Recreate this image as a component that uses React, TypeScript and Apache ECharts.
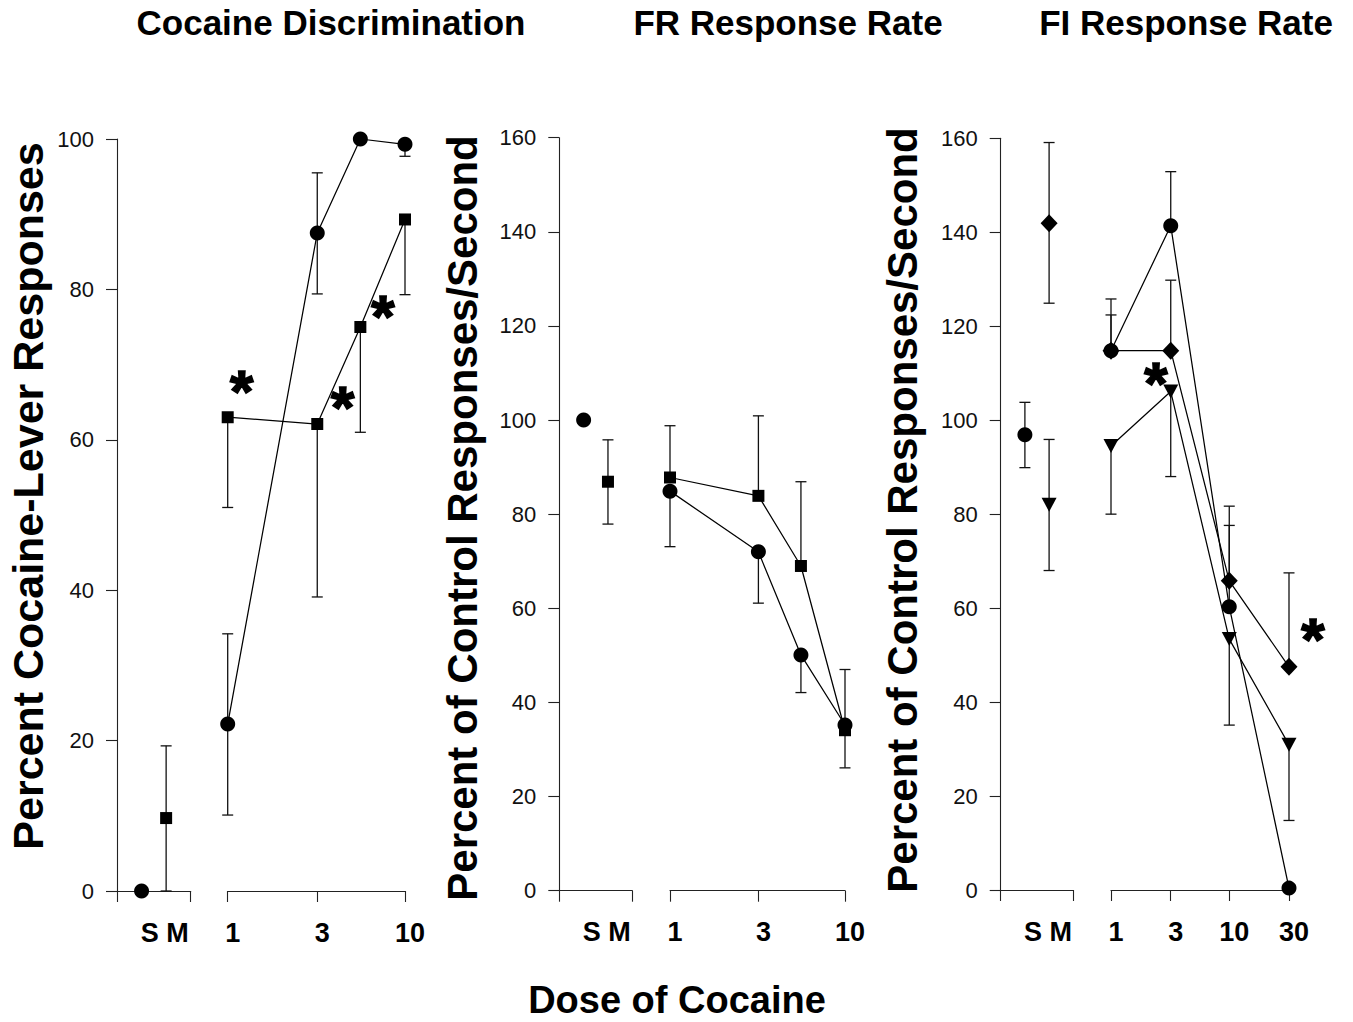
import React, { useEffect, useRef } from 'react';
import * as echarts from 'echarts';

const FONT = '"Liberation Sans", Arial, Helvetica, sans-serif';
const INK = '#000';

// ---------- texts ----------
const panelTitles = ['Cocaine Discrimination', 'FR Response Rate', 'FI Response Rate'];
const yTitles = [
  'Percent Cocaine-Lever Responses',
  'Percent of Control Responses/Second',
  'Percent of Control Responses/Second',
];
const xTitle = 'Dose of Cocaine';
const controlLabel = 'S M';
const starText = '*';

// ---------- panel 1: Cocaine Discrimination ----------
const p1Doses = [1, 3.2, 5.6, 10];
const p1TickDoses = [1, 3.2, 10];
const p1TickLabels = ['1', '3', '10'];
const p1CircleMean = [22.2, 87.5, 100, 99.3];
const p1CircleLo = [10.1, 79.4, null, 97.7];
const p1CircleHi = [34.2, 95.5, null, null];
const p1SquareMean = [63, 62.1, 75, 89.3];
const p1SquareLo = [51, 39.1, 61, 79.3];
const p1SquareHi = [null, null, null, null];
// controls: [position (1 = S, 2 = M), mean, lo, hi]
const p1CircleCtrl = [1, 0, null, null];
const p1SquareCtrl = [2, 9.7, 0, 19.3];
const p1Stars = [[1.2, 67.5], [4.45, 65.3], [7.5, 77.5]];

// ---------- panel 2: FR Response Rate ----------
const p2Doses = [1, 3.2, 5.6, 10];
const p2TickDoses = [1, 3.2, 10];
const p2TickLabels = ['1', '3', '10'];
const p2CircleMean = [84.9, 72.0, 50.1, 35.2];
const p2CircleLo = [73.1, 61.1, 42.1, null];
const p2CircleHi = [null, null, null, 47.0];
const p2SquareMean = [87.8, 83.9, 69.0, 34.1];
const p2SquareLo = [null, null, null, 26.1];
const p2SquareHi = [98.8, 100.9, 86.9, null];
const p2CircleCtrl = [1, 100, null, null];
const p2SquareCtrl = [2, 86.9, 77.9, 95.8];

// ---------- panel 3: FI Response Rate ----------
const p3Doses = [1, 3.2, 10, 32];
const p3TickDoses = [1, 3.2, 10, 32];
const p3TickLabels = ['1', '3', '10', '30'];
const p3CircleMean = [114.8, 141.4, 60.3, 0.4];
const p3CircleLo = [null, null, null, null];
const p3CircleHi = [122.4, 152.9, 77.6, null];
const p3DiamondMean = [114.8, 114.8, 65.8, 47.5];
const p3DiamondLo = [null, null, null, null];
const p3DiamondHi = [125.8, 129.8, 81.7, 67.5];
const p3TriangleMean = [94.5, 106.1, 53.4, 30.9];
const p3TriangleLo = [80.0, 88.0, 35.1, 14.8];
const p3TriangleHi = [null, null, null, null];
const p3CircleCtrl = [1, 96.9, 89.9, 103.8];
const p3DiamondCtrl = [2, 141.9, 124.9, 159.1];
const p3TriangleCtrl = [2, 82, 68, 95.9];
const p3Stars = [[2.4, 109.6], [51, 55]];

// ---------- layout (pixels) ----------
const panels = [
  {
    yMax: 100,
    top: 139, height: 752,
    ctrlLeft: 117, ctrlWidth: 73.7,
    doseLeft: 227.7, doseWidth: 177.3,
    doses: p1Doses, tickDoses: p1TickDoses, tickLabels: p1TickLabels,
    series: [
      { sym: 'circle', size: 15, rot: 0, mean: p1CircleMean, lo: p1CircleLo, hi: p1CircleHi, ctrl: p1CircleCtrl },
      { sym: 'rect', size: 12, rot: 0, mean: p1SquareMean, lo: p1SquareLo, hi: p1SquareHi, ctrl: p1SquareCtrl },
    ],
    stars: p1Stars,
    title: { x: 331, y: 22 },
    yTitle: { x: 28, y: 496, size: 43 },
  },
  {
    yMax: 160,
    top: 137.7, height: 753,
    ctrlLeft: 559.3, ctrlWidth: 73,
    doseLeft: 670, doseWidth: 175,
    doses: p2Doses, tickDoses: p2TickDoses, tickLabels: p2TickLabels,
    series: [
      { sym: 'circle', size: 15, rot: 0, mean: p2CircleMean, lo: p2CircleLo, hi: p2CircleHi, ctrl: p2CircleCtrl },
      { sym: 'rect', size: 12, rot: 0, mean: p2SquareMean, lo: p2SquareLo, hi: p2SquareHi, ctrl: p2SquareCtrl },
    ],
    stars: [],
    title: { x: 788, y: 22 },
    yTitle: { x: 462, y: 518, size: 42 },
  },
  {
    yMax: 160,
    top: 138.3, height: 751.7,
    ctrlLeft: 1000.7, ctrlWidth: 72.6,
    doseLeft: 1111, doseWidth: 178,
    doses: p3Doses, tickDoses: p3TickDoses, tickLabels: p3TickLabels,
    series: [
      { sym: 'circle', size: 15, rot: 0, mean: p3CircleMean, lo: p3CircleLo, hi: p3CircleHi, ctrl: p3CircleCtrl },
      { sym: 'diamond', size: [17, 18], rot: 0, mean: p3DiamondMean, lo: p3DiamondLo, hi: p3DiamondHi, ctrl: p3DiamondCtrl },
      { sym: 'triangle', size: [15, 14], rot: 180, mean: p3TriangleMean, lo: p3TriangleLo, hi: p3TriangleHi, ctrl: p3TriangleCtrl },
    ],
    stars: p3Stars,
    title: { x: 1186, y: 22 },
    yTitle: { x: 902, y: 510, size: 42 },
  },
];

const lg = (d: number) => Math.log10(d);

const errRender = (params: any, api: any) => {
  const x = api.value(0);
  const lo = api.value(1);
  const hi = api.value(2);
  const capLo = api.value(3);
  const capHi = api.value(4);
  const a = api.coord([x, lo]);
  const b = api.coord([x, hi]);
  const w = 5.5;
  const style = { stroke: '#111', lineWidth: 1.3, fill: 'none' };
  const children: any[] = [
    { type: 'line', shape: { x1: a[0], y1: a[1], x2: b[0], y2: b[1] }, style },
  ];
  if (capLo) children.push({ type: 'line', shape: { x1: a[0] - w, y1: a[1], x2: a[0] + w, y2: a[1] }, style });
  if (capHi) children.push({ type: 'line', shape: { x1: b[0] - w, y1: b[1], x2: b[0] + w, y2: b[1] }, style });
  return { type: 'group', children };
};

function errData(xs: number[], mean: number[], lo: (number | null)[], hi: (number | null)[]) {
  const out: any[] = [];
  xs.forEach((x, i) => {
    const l = lo[i];
    const h = hi[i];
    if (l == null && h == null) return;
    out.push([x, l ?? mean[i], h ?? mean[i], l != null ? 1 : 0, h != null ? 1 : 0]);
  });
  return out;
}

function buildOption() {
  const grid: any[] = [];
  const xAxis: any[] = [];
  const yAxis: any[] = [];
  const series: any[] = [];
  const graphic: any[] = [];
  const axisLineStyle = { color: '#222', width: 1.1 };

  panels.forEach((p, pi) => {
    const gCtrl = pi * 2;
    const gDose = pi * 2 + 1;
    grid.push({ left: p.ctrlLeft, top: p.top, width: p.ctrlWidth, height: p.height });
    grid.push({ left: p.doseLeft, top: p.top, width: p.doseWidth, height: p.height });

    // control axes
    xAxis.push({
      gridIndex: gCtrl, type: 'value', min: 0, max: 3,
      axisLine: { show: true, onZero: false, lineStyle: axisLineStyle },
      axisTick: { show: true, customValues: [0, 3], length: 11, inside: false, lineStyle: axisLineStyle },
      axisLabel: {
        show: true, customValues: [1.5], formatter: () => controlLabel,
        fontFamily: FONT, fontWeight: 'bold', fontSize: 27, color: INK, margin: 28,
        padding: [0, 0, 0, 22],
      },
      splitLine: { show: false },
    });
    yAxis.push({
      gridIndex: gCtrl, type: 'value', min: 0, max: p.yMax, interval: 20,
      axisLine: { show: true, onZero: false, lineStyle: axisLineStyle },
      axisTick: { show: true, length: 11, inside: false, lineStyle: axisLineStyle },
      axisLabel: { fontFamily: FONT, fontSize: 22, color: '#111', margin: 23 },
      splitLine: { show: false },
    });

    // dose axes (log10 of dose)
    const tickPos = p.tickDoses.map(lg);
    const maxDose = p.tickDoses[p.tickDoses.length - 1];
    xAxis.push({
      gridIndex: gDose, type: 'value', min: 0, max: lg(maxDose),
      axisLine: { show: true, onZero: false, lineStyle: axisLineStyle },
      axisTick: { show: true, customValues: tickPos, length: 11, inside: false, lineStyle: axisLineStyle },
      axisLabel: {
        show: true, customValues: tickPos,
        formatter: (v: number) => {
          const k = tickPos.findIndex((t) => Math.abs(t - v) < 1e-6);
          return k >= 0 ? p.tickLabels[k] : '';
        },
        fontFamily: FONT, fontWeight: 'bold', fontSize: 27, color: INK, margin: 28,
        padding: [0, 0, 0, 10],
      },
      splitLine: { show: false },
    });
    yAxis.push({ gridIndex: gDose, type: 'value', min: 0, max: p.yMax, interval: 20, show: false });

    const xs = p.doses.map(lg);
    p.series.forEach((s) => {
      // error bars (dose)
      series.push({
        type: 'custom', xAxisIndex: gDose, yAxisIndex: gDose, renderItem: errRender,
        data: errData(xs, s.mean, s.lo, s.hi), encode: { x: 0, y: [1, 2] }, clip: false, z: 2,
        silent: true,
      });
      // control error bars
      const [cpos, cmean, clo, chi] = s.ctrl as any[];
      series.push({
        type: 'custom', xAxisIndex: gCtrl, yAxisIndex: gCtrl, renderItem: errRender,
        data: errData([cpos], [cmean], [clo], [chi]), encode: { x: 0, y: [1, 2] }, clip: false, z: 2,
        silent: true,
      });
      // dose-response line
      series.push({
        type: 'line', xAxisIndex: gDose, yAxisIndex: gDose,
        data: xs.map((x, i) => [x, s.mean[i]]),
        symbol: s.sym, symbolSize: s.size, symbolRotate: s.rot, showAllSymbol: true,
        itemStyle: { color: INK, borderWidth: 0 },
        lineStyle: { color: INK, width: 1.25 },
        clip: false, z: 3, silent: true,
      });
      // control point
      series.push({
        type: 'scatter', xAxisIndex: gCtrl, yAxisIndex: gCtrl,
        data: [[cpos, cmean]],
        symbol: s.sym, symbolSize: s.size, symbolRotate: s.rot,
        itemStyle: { color: INK, opacity: 1 },
        clip: false, z: 3, silent: true,
      });
    });

    if (p.stars.length) {
      series.push({
        type: 'scatter', xAxisIndex: gDose, yAxisIndex: gDose,
        data: p.stars.map((st) => [lg(st[0]), st[1]]),
        symbolSize: 1, itemStyle: { color: 'rgba(0,0,0,0)' },
        label: {
          show: true, position: 'inside', formatter: () => starText,
          fontFamily: FONT, fontWeight: 'bold', fontSize: 60, color: INK, offset: [0, 8],
          textBorderColor: INK, textBorderWidth: 1.6, opacity: 1,
        },
        clip: false, z: 4, silent: true,
      });
    }

    graphic.push({
      type: 'text', x: p.title.x, y: p.title.y,
      style: { text: panelTitles[pi], font: `bold 35px ${FONT}`, fill: INK, align: 'center', verticalAlign: 'middle' },
    });
    graphic.push({
      type: 'text', x: p.yTitle.x, y: p.yTitle.y, rotation: Math.PI / 2,
      style: { text: yTitles[pi], font: `bold ${p.yTitle.size}px ${FONT}`, fill: INK, align: 'center', verticalAlign: 'middle' },
    });
  });

  graphic.push({
    type: 'text', x: 677, y: 1000,
    style: { text: xTitle, font: `bold 38px ${FONT}`, fill: INK, align: 'center', verticalAlign: 'middle' },
  });

  return {
    animation: false,
    backgroundColor: '#fff',
    grid, xAxis, yAxis, series, graphic,
  };
}

export default function App() {
  const ref = useRef<HTMLDivElement>(null);
  useEffect(() => {
    if (!ref.current) return;
    const chart = echarts.init(ref.current, undefined, { renderer: 'svg' });
    chart.setOption(buildOption() as any);
    return () => chart.dispose();
  }, []);
  return (
    <div
      ref={ref}
      style={{ position: 'fixed', left: 0, top: 0, width: 1353, height: 1022, background: '#fff' }}
    />
  );
}
